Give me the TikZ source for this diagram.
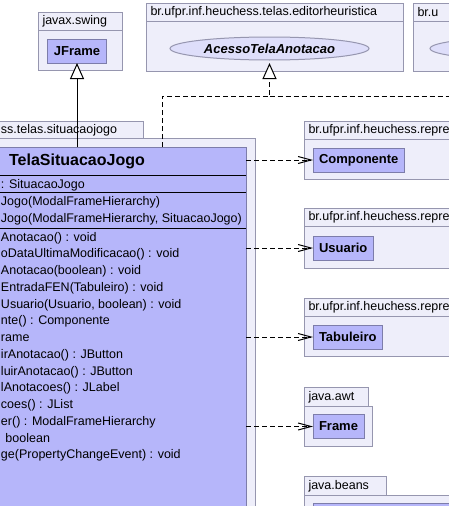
\documentclass[tikz,border=0pt]{standalone}
\usepackage{fontspec}
\setmainfont{Liberation Sans}
\usetikzlibrary{positioning,calc,arrows.meta,shapes.geometric}

\definecolor{pkgfill}{RGB}{238,238,250}
\definecolor{pkgline}{RGB}{150,150,175}
\definecolor{clsfill}{RGB}{182,182,250}
\definecolor{clsline}{RGB}{125,125,170}
\definecolor{ifcfill}{RGB}{222,222,250}

\newcommand{\pkgfont}{\fontsize{12.5}{15}\selectfont}
\newcommand{\memfont}{\fontsize{12.5}{15}\selectfont}

\tikzset{
    pkgtab/.style={draw=pkgline,fill=pkgfill,anchor=north west,outer sep=0pt,
        minimum height=18pt,inner xsep=4.5pt,inner ysep=0pt,align=left,font=\pkgfont},
    pkgbody/.style={draw=pkgline,fill=pkgfill,anchor=north west,outer sep=0pt,inner sep=0pt},
    clsbox/.style={draw=clsline,fill=clsfill,outer sep=0pt,minimum height=24pt,
        inner xsep=6pt,font=\bfseries\fontsize{13}{15}\selectfont},
    ifc/.style={ellipse,draw=pkgline,fill=ifcfill,outer sep=0pt,inner sep=0pt,
        minimum width=199pt,minimum height=23pt,font=\bfseries\itshape\fontsize{13}{15}\selectfont},
    member/.style={anchor=west,inner sep=0pt,text height=9pt,text depth=2.5pt,font=\memfont},
    dep/.style={dash pattern=on 5pt off 3pt,-{Straight Barb[length=13pt,width=7pt]}},
    inherit/.style={-{Triangle[open,fill=white,length=16pt,width=14pt]}},
    realize/.style={dash pattern=on 5pt off 3pt,-{Triangle[open,fill=white,length=16pt,width=14pt]}}
}

\begin{document}
\begin{tikzpicture}[x=1pt,y=-1pt,line width=1pt]
    \useasboundingbox (0,0) rectangle (449,506);
    \clip (0,0) rectangle (449,506);
    \fill[white] (0,0) rectangle (449,506);

    \node[pkgtab,text width=75pt] (swingtab) at (38,12.5) {javax.swing};
    \node[pkgbody,minimum width=84pt,minimum height=40pt] (swingpkg) at (swingtab.south west) {};
    \node[clsbox] (jframe) at (77,51) {JFrame};

    \node[pkgtab,text width=248pt] (edtab) at (146,3) {br.ufpr.inf.heuchess.telas.editorheuristica};
    \node[pkgbody,minimum width=257pt,minimum height=50pt] (edpkg) at (edtab.south west) {};
    \node[ifc] (acesso) at (269.5,48.5) {AcessoTelaAnotacao};

    \node[pkgtab,text width=248pt] (outtab) at (413,3) {br.u};
    \node[pkgbody,minimum width=257pt,minimum height=50pt] (outpkg) at (outtab.south west) {};
    \node[ifc] (outifc) at (529.5,48.5) {};

    \node[pkgtab,minimum width=244pt,minimum height=16.6pt] (sittab) at (-101,121.7) {};
    \node[member,font=\pkgfont] (sitlabel) at (0.5,130) {ss.telas.situacaojogo};
    \node[pkgbody,minimum width=356pt,minimum height=450pt] (sitpkg) at (sittab.south west) {};

    \node[draw=clsline,fill=clsfill,anchor=north east,outer sep=0pt,
        minimum width=338pt,minimum height=450pt] (tela) at (246,147) {};
    \node[font=\bfseries\fontsize{16}{18}\selectfont] (telaname) at ($(tela.north)+(0,14)$) {TelaSituacaoJogo};
    \foreach \y in {175,192,228} {
        \draw (tela.west |- 0,\y) -- (tela.east |- 0,\y); }

    \node[member] (a1) at (0.5,185) {: SituacaoJogo};
    \node[member] (c1) at (0.5,202) {Jogo(ModalFrameHierarchy)};
    \node[member] (c2) at (0.5,219) {Jogo(ModalFrameHierarchy, SituacaoJogo)};
    \foreach \m [count=\i] in {Anotacao() : void, oDataUltimaModificacao() : void,
        Anotacao(boolean) : void, EntradaFEN(Tabuleiro) : void,
        {Usuario(Usuario, boolean) : void}, nte() : Componente, rame,
        irAnotacao() : JButton, luirAnotacao() : JButton, lAnotacoes() : JLabel,
        coes() : JList, er() : ModalFrameHierarchy, \hspace{4.5pt}boolean,
        ge(PropertyChangeEvent) : void} {
        \node[member] (m\i) at (0.5,{221+16.75*\i}) {\m}; }

    \node[pkgtab,text width=251pt] (comptab) at (304,121.7) {br.ufpr.inf.heuchess.repre};
    \node[pkgbody,minimum width=260pt,minimum height=39.7pt] (comppkg) at (comptab.south west) {};
    \node[clsbox,anchor=west] (comp) at (313,160) {Componente};

    \node[pkgtab,text width=251pt] (usutab) at (304,208.5) {br.ufpr.inf.heuchess.repre};
    \node[pkgbody,minimum width=260pt,minimum height=41.5pt] (usupkg) at (usutab.south west) {};
    \node[clsbox,anchor=west] (usuario) at (313,248) {Usuario};

    \node[pkgtab,text width=251pt] (tabtab) at (304,298.3) {br.ufpr.inf.heuchess.repre};
    \node[pkgbody,minimum width=260pt,minimum height=40pt] (tabpkg) at (tabtab.south west) {};
    \node[clsbox,anchor=west] (tabul) at (313,337) {Tabuleiro};

    \node[pkgtab,text width=55pt,minimum height=19pt] (awttab) at (304,387.7) {java.awt};
    \node[pkgbody,minimum width=68pt,minimum height=39.5pt] (awtpkg) at (awttab.south west) {};
    \node[clsbox,anchor=west] (frame) at (313,426.5) {Frame};

    \node[pkgtab,text width=73pt,minimum height=19pt] (beanstab) at (304,476.7) {java.beans};
    \node[pkgbody,minimum width=260pt,minimum height=60pt] (beanspkg) at (beanstab.south west) {};
    \node[clsbox,anchor=north west,minimum width=200pt,minimum height=60pt] (beanscls) at (313,503) {};

    \draw[inherit] (jframe |- tela.north) -- (jframe);

    \coordinate (fork) at (162,96);
    \draw[realize,shorten >=3pt] (fork |- tela.north) -- (fork) -| (acesso);
    \draw[realize,shorten >=3pt] (acesso |- fork) -| (outifc);

    \foreach \n in {comp,usuario,tabul,frame} {
        \draw[dep] (tela.east |- \n) -- (\n); }
\end{tikzpicture}
\end{document}
